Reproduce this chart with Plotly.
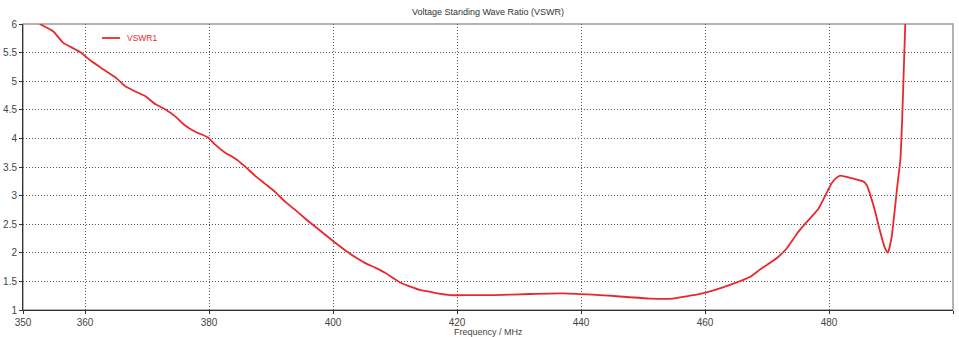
import plotly.graph_objects as go

freq = [352.7, 354.9, 356.5, 359.2, 360.8, 362.9, 365.1, 366.5, 368.1, 369.7,
        371.3, 372.9, 374.5, 376.1, 377.7, 379.8, 381.0, 382.6, 384.2, 385.8, 387.4, 389.0, 390.6,
        392.3, 393.9, 395.5, 397.1, 398.7, 400.3, 401.9, 403.5, 405.2, 406.8, 408.4, 410.8,
        414.0, 418.9, 422, 426, 431.8, 437.1, 443, 445.8, 451.1, 454.8, 459.2,
        461.9, 464.6, 467.3, 468.9, 471.6, 473.2, 474.8, 476.1, 478.3, 479.4, 480.4, 481.1, 481.8,
        483.4, 484.5, 485.5, 486.1, 486.6, 487.4, 488.2, 489.0, 489.5, 490.1, 490.6, 491.0, 491.5,
        491.8, 492.3]
vswr = [6.0, 5.87, 5.67, 5.51, 5.37, 5.21, 5.05, 4.91, 4.82, 4.74,
        4.60, 4.51, 4.39, 4.23, 4.12, 4.02, 3.89, 3.75, 3.65, 3.51, 3.35, 3.21, 3.07,
        2.89, 2.75, 2.60, 2.46, 2.32, 2.18, 2.05, 1.93, 1.82, 1.74, 1.65, 1.48,
        1.35, 1.26, 1.26, 1.26, 1.28, 1.29, 1.26, 1.24, 1.20, 1.20, 1.28,
        1.36, 1.46, 1.58, 1.71, 1.91, 2.08, 2.33, 2.50, 2.77, 3.00, 3.21, 3.30, 3.35,
        3.31, 3.28, 3.25, 3.18, 3.03, 2.74, 2.39, 2.09, 2.00, 2.27, 2.74, 3.15, 3.61,
        4.32, 6.0]

x_ticks = [350, 360, 380, 400, 420, 440, 460, 480, 500]
y_ticks = [1, 1.5, 2, 2.5, 3, 3.5, 4, 4.5, 5, 5.5, 6]
y_labels = ["1", "1.5", "2", "2.5", "3", "3.5", "4", "4.5", "5", "5.5", "6"]

font = "Liberation Sans"
red = "#e8282c"
fig = go.Figure()
fig.add_trace(go.Scatter(x=freq, y=vswr, mode="lines", name="VSWR1", showlegend=False,
                         line=dict(color=red, width=1.8, shape="spline", smoothing=0.4)))

fig.update_layout(
    width=959, height=337,
    margin=dict(l=23, r=6, t=24, b=27),
    paper_bgcolor="white", plot_bgcolor="white",
    title=dict(text="Voltage Standing Wave Ratio (VSWR)", x=0.5, xref="paper", xanchor="center",
               y=1, yref="container", yanchor="top", pad=dict(t=9),
               font=dict(family=font, size=9, color="#333")),
    font=dict(family=font, size=10, color="#444"),
    shapes=[
        dict(type="rect", xref="paper", yref="paper", x0=0, x1=1, y0=0, y1=1,
             line=dict(color="#9a9a9a", width=1.5), layer="below"),
        # legend sample line
        dict(type="line", xref="paper", yref="paper", x0=(102 - 23) / 930, x1=(120 - 23) / 930,
             y0=(310 - 38) / 286, y1=(310 - 38) / 286, line=dict(color=red, width=1.8)),
    ],
    annotations=[
        dict(text="VSWR1", xref="paper", yref="paper", x=(125 - 23) / 930, y=(310 - 38) / 286,
             xanchor="left", yanchor="middle", showarrow=False,
             font=dict(family=font, size=8.5, color=red)),
        dict(text="Frequency / MHz", xref="paper", yref="paper", x=0.5, y=0,
             xanchor="center", yanchor="top", yshift=-15, showarrow=False,
             font=dict(family=font, size=9, color="#444")),
    ],
)
fig.update_xaxes(range=[350, 500], tickvals=x_ticks, ticktext=[str(v) for v in x_ticks],
                 showgrid=True, gridcolor="#555", griddash="1px,2px", gridwidth=1,
                 showline=True, linecolor="#333", linewidth=1, ticks="outside", ticklen=3,
                 tickcolor="#333", zeroline=False, automargin=False,
                 tickfont=dict(family=font, size=10, color="#444"))
fig.update_yaxes(range=[1, 6], tickvals=y_ticks, ticktext=y_labels,
                 showgrid=True, gridcolor="#555", griddash="1px,2px", gridwidth=1,
                 showline=True, linecolor="#333", linewidth=1, ticks="outside", ticklen=3,
                 tickcolor="#333", zeroline=False, automargin=False,
                 tickfont=dict(family=font, size=10, color="#444"))

fig.write_html("out.html", config={"displayModeBar": False},
               post_script="document.body.style.margin='0';document.body.style.overflow='hidden';")
